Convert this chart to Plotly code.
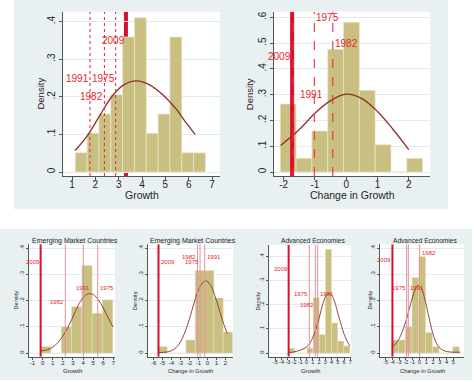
import plotly.graph_objects as go

W, H = 474, 382

# ---------------- data ----------------
# Top-left: Growth
tl_edges = [1.14, 1.647, 2.154, 2.661, 3.168, 3.675, 4.182, 4.689, 5.196, 5.703, 6.21, 6.717]
tl_heights = [.051, .103, .154, .205, .359, .410, .103, .154, .359, .051, .051]
tl_curve_x = [1.13, 1.63, 2.2, 2.7, 3.2, 3.77, 4.34, 4.91, 5.49, 5.91, 6.27]
tl_curve_y = [.057, .094, .151, .200, .231, .242, .231, .204, .165, .129, .100]
tl_event_lab = ["1991", "1982", "1975", "2009"]
tl_event_x = [1.77, 2.39, 2.87, 3.31]
tl_label_y = [.249, .200, .249, .349]
tl_xticks = [1, 2, 3, 4, 5, 6, 7]
tl_yticks = [0, .1, .2, .3, .4]
tl_yticktext = ["0", ".1", ".2", ".3", ".4"]

# Top-right: Change in Growth
tr_edges = [-2.11, -1.604, -1.098, -0.592, -0.086, 0.42, 0.926, 1.432, 1.938, 2.444]
tr_heights = [.264, .053, .159, .476, .581, .317, .106, 0, .053]
tr_curve_x = [-2.1, -1.5, -1.0, -0.5, 0.0, 0.5, 1.0, 1.5, 2.0]
tr_curve_y = [.103, .165, .228, .277, .302, .285, .235, .165, .087]
tr_event_lab = ["2009", "1991", "1975", "1982"]
tr_event_x = [-1.73, -1.70, -1.02, -0.43]
tr_label_y = [.450, .300, .600, .500]
tr_xticks = [-2, -1, 0, 1, 2]
tr_yticks = [0, .1, .2, .3, .4, .5, .6]
tr_yticktext = ["0", ".1", ".2", ".3", ".4", ".5", ".6"]

# Bottom 1: Emerging Market Countries, Growth
b1_edges = [-0.2, 0.82, 1.84, 2.86, 3.88, 4.9, 5.92, 6.94]
b1_heights = [.025, 0, .100, .177, .334, .152, .203]
b1_curve_x = [-0.2, 0.5, 1.0, 1.5, 2.0, 2.5, 3.0, 3.5, 4.0, 4.5, 5.0, 5.5, 6.0, 6.5, 6.95]
b1_curve_y = [.008, .013, .022, .040, .065, .098, .138, .180, .212, .226, .223, .204, .172, .134, .100]
b1_event_lab = ["2009", "1982", "1991", "1975"]
b1_event_x = [-0.2, 2.24, 4.03, 5.45]
b1_label_y = [.349, .196, .247, .247]
b1_xticks = [-1, 0, 1, 2, 3, 4, 5, 6, 7]

# Bottom 2: Emerging Market Countries, Change in Growth
b2_edges = [-5.52, -4.48, -3.44, -2.4, -1.36, -0.32, 0.72, 1.76, 2.8]
b2_heights = [.025, 0, 0, .050, .315, .315, .210, .080]
b2_curve_x = [-5.45, -4.5, -4.0, -3.5, -3.0, -2.5, -2.0, -1.5, -1.0, -0.5, -0.2, 0.3, 0.8, 1.3, 1.8, 2.2]
b2_curve_y = [.002, .004, .009, .020, .042, .080, .130, .190, .240, .270, .276, .262, .222, .168, .112, .075]
b2_event_lab = ["2009", "1982", "1975", "1991"]
b2_event_x = [-5.45, -1.11, -0.82, -0.30]
b2_label_y = [.347, .368, .347, .368]
b2_xticks = [-6, -5, -4, -3, -2, -1, 0, 1, 2, 3]

# Bottom 3: Advanced Economies, Growth
b3_edges = [-2.87, -1.89, -0.91, 0.07, 1.05, 2.03, 3.01, 3.99, 4.97, 5.95, 6.93]
b3_heights = [.020, 0, 0, .020, .230, .077, .430, .125, .050, .030]
b3_curve_x = [-2.87, -2.0, -1.0, 0.0, 0.5, 1.0, 1.5, 2.0, 2.5, 3.0, 3.5, 4.0, 4.5, 5.0, 5.5, 6.0, 6.5, 6.9]
b3_curve_y = [.002, .005, .012, .025, .040, .065, .100, .145, .195, .232, .248, .240, .212, .165, .120, .078, .048, .030]
b3_event_lab = ["2009", "1975", "1982", "1991"]
b3_event_x = [-2.87, 0.44, 1.40, 1.77]
b3_label_y = [.348, .244, .200, .244]
b3_xticks = [-5, -4, -3, -2, -1, 0, 1, 2, 3, 4, 5, 6, 7]

# Bottom 4: Advanced Economies, Change in Growth
b4_edges = [-4.1, -3.1, -2.1, -1.1, -0.1, 0.9, 1.9, 2.9, 3.9, 4.9, 5.9]
b4_heights = [.050, .050, .100, .288, .368, .078, .024, 0, 0, .024]
b4_curve_x = [-4.16, -3.5, -3.0, -2.5, -2.0, -1.5, -1.0, -0.5, -0.2, 0.3, 0.8, 1.3, 1.8, 2.3, 2.8, 3.5, 4.5, 6.0]
b4_curve_y = [.022, .036, .055, .085, .122, .170, .215, .250, .258, .245, .205, .148, .092, .050, .025, .010, .004, .003]
b4_event_lab = ["2009", "1975", "1991", "1982"]
b4_event_x = [-4.0, -1.9, -1.65, 0.02]
b4_label_y = [.355, .247, .247, .380]
b4_xticks = [-5, -4, -3, -2, -1, 0, 1, 2, 3, 4, 5]

small_yticks = [0, .1, .2, .3, .4]
small_yticktext = ["0", ".1", ".2", ".3", ".4"]

# ---------------- styling ----------------
FONT = "Liberation Sans, Arial, sans-serif"
BG = "#e9f0f2"
BAR = "#c9bf80"
BAR_LINE = "#ece7d0"
CURVE = "#8e2f2a"
RED = "#d8102e"
THINRED = "#f0303c"
LABRED = "#e3262c"
PINK = "#e8909a"
AXIS = "#555555"
GRID = "#e4ebee"
TXT = "#1e1e1e"


def px(p):
    return p / W


def py(p):
    return 1 - p / H


panels = [
    dict(edges=tl_edges, heights=tl_heights, cx=tl_curve_x, cy=tl_curve_y,
         ev=tl_event_lab, evx=tl_event_x, laby=tl_label_y,
         side=["right", "right", "right", "right"], shift=[0, 0, 0, 0],
         xticks=tl_xticks, yticks=tl_yticks, ytext=tl_yticktext,
         xdom=(63.3, 220), ydom=(11.7, 176), xr=[0.627, 7.34], yr=[-0.0106, 0.426],
         xtitle="Growth", title=None, big=True, thin_dash="dot", thick_below=True,
         dens_x=40.7, xt_y=195, xtick_size=10),
    dict(edges=tr_edges, heights=tr_heights, cx=tr_curve_x, cy=tr_curve_y,
         ev=tr_event_lab, evx=tr_event_x, laby=tr_label_y,
         side=["right", "left", "left", "left"], shift=[0, 6, 1, 1],
         xticks=tr_xticks, yticks=tr_yticks, ytext=tr_yticktext,
         xdom=(273.7, 430.3), ydom=(11.7, 176), xr=[-2.32, 2.69], yr=[-0.0155, 0.622],
         xtitle="Change in Growth", title=None, big=True, thin_dash="dash", thick_below=False,
         dens_x=250.3, xt_y=195, xtick_size=10),
    dict(edges=b1_edges, heights=b1_heights, cx=b1_curve_x, cy=b1_curve_y,
         ev=b1_event_lab, evx=b1_event_x, laby=b1_label_y,
         side=["right", "right", "center", "left"], shift=[0, 0, 0, 1],
         xticks=b1_xticks, yticks=small_yticks, ytext=small_yticktext,
         xdom=(29.3, 115), ydom=(244.3, 356.7), xr=[-1.32, 7.16], yr=[-0.014, 0.415],
         xtitle="Growth", title="Emerging Market Countries", big=False, thin_dash="solid",
         thick_below=False, dens_x=15, xt_y=370.5, title_size=7, xtick_size=6),
    dict(edges=b2_edges, heights=b2_heights, cx=b2_curve_x, cy=b2_curve_y,
         ev=b2_event_lab, evx=b2_event_x, laby=b2_label_y,
         side=["left", "right", "right", "left"], shift=[1, 0, 0, 1],
         xticks=b2_xticks, yticks=small_yticks, ytext=small_yticktext,
         xdom=(148, 233), ydom=(244.3, 356.7), xr=[-6.62, 2.85], yr=[-0.014, 0.415],
         xtitle="Change in Growth", title="Emerging Market Countries", big=False,
         thin_dash="solid", thick_below=False, dens_x=134.7, xt_y=370.5, title_size=7,
         xtick_size=6),
    dict(edges=b3_edges, heights=b3_heights, cx=b3_curve_x, cy=b3_curve_y,
         ev=b3_event_lab, evx=b3_event_x, laby=b3_label_y,
         side=["right", "right", "right", "left"], shift=[0, 0, 0, 1],
         xticks=b3_xticks, yticks=small_yticks, ytext=small_yticktext,
         xdom=(269.3, 351), ydom=(245, 356.7), xr=[-5.96, 7.1], yr=[-0.015, 0.448],
         xtitle="Growth", title="Advanced Economies", big=False, thin_dash="solid",
         thick_below=False, dens_x=257.7, xt_y=370.5, title_size=6.6, xtick_size=5.5),
    dict(edges=b4_edges, heights=b4_heights, cx=b4_curve_x, cy=b4_curve_y,
         ev=b4_event_lab, evx=b4_event_x, laby=b4_label_y,
         side=["right", "right", "left", "left"], shift=[0, 0, 1, 1],
         xticks=b4_xticks, yticks=small_yticks, ytext=small_yticktext,
         xdom=(380, 464), ydom=(244.3, 356.7), xr=[-5.84, 6.58], yr=[-0.014, 0.415],
         xtitle="Change in Growth", title="Advanced Economies", big=False, thin_dash="solid",
         thick_below=False, dens_x=369, xt_y=370.5, title_size=6.6, xtick_size=5.5),
]

fig = go.Figure()
shapes = []
annotations = []

# graph-region backgrounds
shapes.append(dict(type="rect", xref="paper", yref="paper", x0=px(14), x1=px(448),
                   y0=py(209), y1=py(0), fillcolor=BG, line_width=0, layer="below"))
shapes.append(dict(type="rect", xref="paper", yref="paper", x0=px(0), x1=px(472),
                   y0=py(380), y1=py(229), fillcolor=BG, line_width=0, layer="below"))

layout_axes = {}
for i, p in enumerate(panels, start=1):
    xa = "x" if i == 1 else f"x{i}"
    ya = "y" if i == 1 else f"y{i}"
    big = p["big"]
    tick_size = 10 if big else 6
    ticklen = 3 if big else 2
    lab_size = 10 if big else 6
    title_size = 10.5 if big else (6 if p["xtitle"] == "Growth" else 5.6)
    dens_size = 9.5 if big else 5.6

    # white plot region
    shapes.append(dict(type="rect", xref="paper", yref="paper",
                       x0=px(p["xdom"][0]), x1=px(p["xdom"][1]),
                       y0=py(p["ydom"][1]), y1=py(p["ydom"][0]),
                       fillcolor="white", line_width=0, layer="below"))

    edges = p["edges"]
    centers = [(edges[k] + edges[k + 1]) / 2 for k in range(len(p["heights"]))]
    widths = [edges[k + 1] - edges[k] for k in range(len(p["heights"]))]
    fig.add_trace(go.Bar(x=centers, y=p["heights"], width=widths, xaxis=xa, yaxis=ya,
                         marker=dict(color=BAR, line=dict(color=BAR_LINE, width=0.7 if big else 0.4)),
                         showlegend=False, hoverinfo="skip"))
    fig.add_trace(go.Scatter(x=p["cx"], y=p["cy"], mode="lines", xaxis=xa, yaxis=ya,
                             line=dict(color=CURVE, width=1.3 if big else 0.9, shape="spline"),
                             showlegend=False, hoverinfo="skip"))

    for lab, xv, yv, side, sh in zip(p["ev"], p["evx"], p["laby"], p["side"], p["shift"]):
        if lab == "2009":
            shapes.append(dict(type="line", xref=xa, yref=ya, x0=xv, x1=xv,
                               y0=p["yr"][0], y1=p["yr"][1],
                               line=dict(color=RED, width=4 if big else 2),
                               layer="below" if p["thick_below"] else "above"))
        else:
            if big:
                ln = dict(color=THINRED, width=1.1, dash=p["thin_dash"])
            else:
                ln = dict(color=PINK, width=1)
            shapes.append(dict(type="line", xref=xa, yref=ya, x0=xv, x1=xv,
                               y0=p["yr"][0], y1=p["yr"][1], line=ln, layer="above"))
        annotations.append(dict(text=lab, xref=xa, yref=ya, x=xv, y=yv, xanchor=side,
                                yanchor="middle", showarrow=False, xshift=sh, borderpad=0,
                                font=dict(family=FONT, size=lab_size, color=LABRED)))

    # axis titles
    cx_pix = (p["xdom"][0] + p["xdom"][1]) / 2
    cy_pix = (p["ydom"][0] + p["ydom"][1]) / 2
    annotations.append(dict(text=p["xtitle"], xref="paper", yref="paper", x=px(cx_pix),
                            y=py(p["xt_y"]), xanchor="center", yanchor="middle",
                            showarrow=False, font=dict(family=FONT, size=title_size, color=TXT)))
    annotations.append(dict(text="Density", xref="paper", yref="paper", x=px(p["dens_x"]),
                            y=py(cy_pix), xanchor="center", yanchor="middle", textangle=-90,
                            showarrow=False, font=dict(family=FONT, size=dens_size, color=TXT)))
    if p["title"]:
        annotations.append(dict(text=p["title"], xref="paper", yref="paper",
                                x=px(cx_pix + 2.5), y=py(240.5), xanchor="center",
                                yanchor="middle", showarrow=False,
                                font=dict(family=FONT, size=p["title_size"], color=TXT)))

    xkey = "xaxis" if i == 1 else f"xaxis{i}"
    ykey = "yaxis" if i == 1 else f"yaxis{i}"
    layout_axes[xkey] = dict(domain=[px(p["xdom"][0]), px(p["xdom"][1])], anchor=ya,
                             range=p["xr"], tickvals=p["xticks"],
                             ticktext=[str(t) for t in p["xticks"]], tickangle=0,
                             ticks="outside", ticklen=ticklen, tickcolor=AXIS, tickwidth=1,
                             ticklabelstandoff=-4 if big else -2,
                             showline=True, linecolor=AXIS, linewidth=1, showgrid=False,
                             zeroline=False, fixedrange=True,
                             tickfont=dict(family=FONT, size=p["xtick_size"], color=TXT))
    layout_axes[ykey] = dict(domain=[py(p["ydom"][1]), py(p["ydom"][0])], anchor=xa,
                             range=p["yr"], tickvals=p["yticks"], ticktext=p["ytext"],
                             tickangle=-90, ticks="outside", ticklen=ticklen, tickcolor=AXIS,
                             tickwidth=1, showline=True, linecolor=AXIS, linewidth=1,
                             showgrid=True, gridcolor=GRID, gridwidth=1, zeroline=False,
                             fixedrange=True,
                             tickfont=dict(family=FONT, size=tick_size, color=TXT))

fig.update_layout(width=W, height=H, autosize=False, margin=dict(l=0, r=0, t=0, b=0),
                  paper_bgcolor="white", plot_bgcolor="rgba(0,0,0,0)", barmode="overlay",
                  showlegend=False, shapes=shapes, annotations=annotations,
                  font=dict(family=FONT, color=TXT), **layout_axes)

# remove the browser's default page margin so the figure sits at the window's corner
fig.write_html("out.html", config={"displayModeBar": False},
               post_script="document.body.style.margin='0';document.body.style.overflow='hidden';")
